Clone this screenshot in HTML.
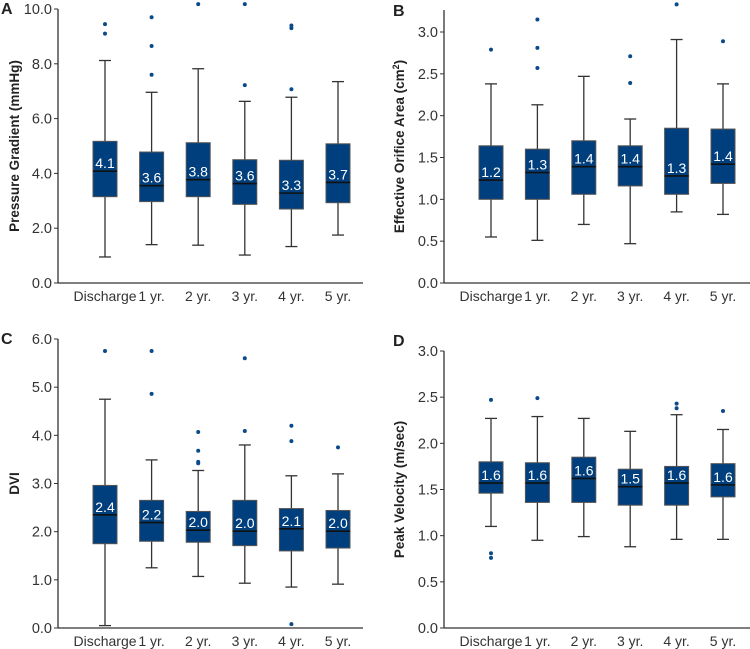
<!DOCTYPE html>
<html><head><meta charset="utf-8">
<style>
html,body{margin:0;padding:0;background:#fff;}
svg{display:block;font-family:"Liberation Sans",Arial,sans-serif;}
</style></head>
<body>
<svg id="chart" width="750" height="649" viewBox="0 0 750 649" xmlns="http://www.w3.org/2000/svg"></svg>
<script>
const categories = ["Discharge","1 yr.","2 yr.","3 yr.","4 yr.","5 yr."];

// Panel A: Pressure Gradient
const aQ1 = [3.15,2.97,3.15,2.87,2.70,2.93];
const aMed = [4.08,3.55,3.77,3.63,3.28,3.67];
const aQ3 = [5.17,4.78,5.12,4.50,4.48,5.08];
const aLo = [0.95,1.40,1.38,1.02,1.33,1.75];
const aHi = [8.12,6.96,7.82,6.63,6.78,7.35];
const aOut = [[9.1,9.45],[7.6,8.65,9.7],[10.18],[7.22,10.18],[7.07,9.3,9.4],[]];
const aLabels = ["4.1","3.6","3.8","3.6","3.3","3.7"];
const aTicks = ["0.0","2.0","4.0","6.0","8.0","10.0"];

// Panel B: Effective Orifice Area
const bQ1 = [1.00,1.00,1.06,1.16,1.06,1.19];
const bMed = [1.23,1.32,1.39,1.39,1.28,1.42];
const bQ3 = [1.64,1.60,1.70,1.64,1.85,1.84];
const bLo = [0.55,0.51,0.70,0.47,0.85,0.82];
const bHi = [2.38,2.13,2.47,1.96,2.91,2.38];
const bOut = [[2.79],[2.57,2.81,3.15],[],[2.39,2.71],[3.33],[2.89]];
const bLabels = ["1.2","1.3","1.4","1.4","1.3","1.4"];
const bTicks = ["0.0","0.5","1.0","1.5","2.0","2.5","3.0"];

// Panel C: DVI
const cQ1 = [1.75,1.80,1.78,1.71,1.60,1.66];
const cMed = [2.35,2.19,2.03,2.01,2.06,2.01];
const cQ3 = [2.96,2.65,2.42,2.65,2.48,2.44];
const cLo = [0.05,1.25,1.07,0.93,0.85,0.91];
const cHi = [4.75,3.49,3.27,3.80,3.16,3.20];
const cOut = [[5.75],[4.86,5.75],[3.42,3.45,3.68,4.07],[4.09,5.6],[0.08,3.88,4.2],[3.75]];
const cLabels = ["2.4","2.2","2.0","2.0","2.1","2.0"];
const cTicks = ["0.0","1.0","2.0","3.0","4.0","5.0","6.0"];

// Panel D: Peak Velocity
const dQ1 = [1.46,1.36,1.36,1.33,1.33,1.42];
const dMed = [1.57,1.57,1.62,1.53,1.57,1.55];
const dQ3 = [1.80,1.79,1.85,1.72,1.75,1.78];
const dLo = [1.10,0.95,0.99,0.88,0.96,0.96];
const dHi = [2.27,2.29,2.27,2.13,2.31,2.15];
const dOut = [[0.76,0.81,2.47],[2.49],[],[],[2.38,2.43],[2.35]];
const dLabels = ["1.6","1.6","1.6","1.5","1.6","1.6"];
const dTicks = ["0.0","0.5","1.0","1.5","2.0","2.5","3.0"];

const NS = "http://www.w3.org/2000/svg";
const svg = document.getElementById("chart");
function mk(tag, attrs, parent){
  const e = document.createElementNS(NS, tag);
  for (const k in attrs) e.setAttribute(k, attrs[k]);
  (parent||svg).appendChild(e);
  return e;
}

function panel(cfg){
  const g = mk("g", {});
  
  
  const yScale = v => cfg.y0 - (v - cfg.vmin) * (cfg.y0 - cfg.yTopVal) / (cfg.vmaxTick - cfg.vmin);
  const xScale = i => cfg.firstCenter + i * cfg.step;

  const L = mk("text", {x: cfg.letterX, y: cfg.letterY, "font-size": 16, "font-weight": "bold", fill: "#222"}, g);
  L.textContent = cfg.letter;
  
  

  const ya = mk("line", {x1: cfg.x0, y1: cfg.axisTop, x2: cfg.x0, y2: cfg.y0, stroke: "#333", "stroke-width": 1.3}, g);
  
  
  const xa = mk("line", {x1: cfg.x0, y1: cfg.y0, x2: cfg.xEnd, y2: cfg.y0, stroke: "#333", "stroke-width": 1.3}, g);
  
  

  cfg.ticks.forEach(t => {
    const v = parseFloat(t), y = yScale(v);
    const tk = mk("line", {x1: cfg.x0 - 4, y1: y, x2: cfg.x0, y2: y, stroke: "#333", "stroke-width": 1}, g);
    
    
    const tl = mk("text", {x: cfg.x0 - 6, y: y + 5, "font-size": 14.5, "text-anchor": "end", fill: "#333"}, g);
    tl.textContent = t;
    
    
  });

  const ty = (cfg.y0 + cfg.axisTop) / 2;
  const yt = mk("text", {x: cfg.titleX, y: ty, "font-size": 13.5, "font-weight": "bold", "text-anchor": "middle", fill: "#222", transform: `rotate(-90 ${cfg.titleX} ${ty})`}, g);
  if (cfg.sup) {
    yt.appendChild(document.createTextNode(cfg.title));
    const s = mk("tspan", {"baseline-shift": "super", "font-size": 9}, yt);
    s.textContent = "2";
    const r = mk("tspan", {}, yt);
    r.textContent = ")";
  } else yt.textContent = cfg.title;
  
  

  categories.forEach((c, i) => {
    const cx = xScale(i);
    const bw = 24, cw = 12;
    const bg = mk("g", {}, g);
    
    
    const yq1 = yScale(cfg.q1[i]), yq3 = yScale(cfg.q3[i]), ym = yScale(cfg.med[i]);
    const yl = yScale(cfg.lo[i]), yh = yScale(cfg.hi[i]);
    const w1 = mk("line", {x1: cx, y1: yq3, x2: cx, y2: yh, stroke: "#333", "stroke-width": 1.3}, bg);
    
    
    const w2 = mk("line", {x1: cx, y1: yq1, x2: cx, y2: yl, stroke: "#333", "stroke-width": 1.3}, bg);
    
    
    const c1 = mk("line", {x1: cx - cw/2, y1: yh, x2: cx + cw/2, y2: yh, stroke: "#333", "stroke-width": 1.3}, bg);
    
    
    const c2 = mk("line", {x1: cx - cw/2, y1: yl, x2: cx + cw/2, y2: yl, stroke: "#333", "stroke-width": 1.3}, bg);
    
    
    const r = mk("rect", {x: cx - bw/2, y: yq3, width: bw, height: yq1 - yq3, fill: "#003f7d", stroke: "#555", "stroke-width": 1}, bg);
    
    
    const m = mk("line", {x1: cx - bw/2, y1: ym, x2: cx + bw/2, y2: ym, stroke: "#111", "stroke-width": 1.6}, bg);
    
    
    const lb = mk("text", {x: cx, y: ym - 3, "font-size": 14, "text-anchor": "middle", fill: "#fff"}, bg);
    lb.textContent = cfg.labels[i];
    
    
    cfg.out[i].forEach(v => {
      const p = mk("circle", {cx: cx, cy: yScale(v), r: 2, fill: "#0b4a8a"}, bg);
      
      
    });
    const xl = mk("text", {x: cx, y: cfg.y0 + 18, "font-size": 14, "text-anchor": "middle", fill: "#333"}, g);
    xl.textContent = c;
    
    
  });
}

panel({name:"panel-a-pressure-gradient", letter:"A", letterX:1, letterY:14,
  x0:58, xEnd:363, y0:283, yTopVal:9, axisTop:9, vmin:0, vmaxTick:10, firstCenter:105, step:46.6,
  titleX:19, title:"Pressure Gradient (mmHg)", ticks:aTicks,
  q1:aQ1, med:aMed, q3:aQ3, lo:aLo, hi:aHi, out:aOut, labels:aLabels});
panel({name:"panel-b-effective-orifice-area", letter:"B", letterX:393, letterY:16,
  x0:444, xEnd:750, y0:283, yTopVal:32, axisTop:10, vmin:0, vmaxTick:3, firstCenter:491, step:46.4,
  titleX:404, title:"Effective Orifice Area (cm", sup:true, ticks:bTicks,
  q1:bQ1, med:bMed, q3:bQ3, lo:bLo, hi:bHi, out:bOut, labels:bLabels});
panel({name:"panel-c-dvi", letter:"C", letterX:1, letterY:344,
  x0:58, xEnd:363, y0:628, yTopVal:339, axisTop:339, vmin:0, vmaxTick:6, firstCenter:105, step:46.6,
  titleX:19, title:"DVI", ticks:cTicks,
  q1:cQ1, med:cMed, q3:cQ3, lo:cLo, hi:cHi, out:cOut, labels:cLabels});
panel({name:"panel-d-peak-velocity", letter:"D", letterX:393, letterY:346,
  x0:444, xEnd:750, y0:628, yTopVal:351, axisTop:351, vmin:0, vmaxTick:3, firstCenter:491, step:46.4,
  titleX:404, title:"Peak Velocity (m/sec)", ticks:dTicks,
  q1:dQ1, med:dMed, q3:dQ3, lo:dLo, hi:dHi, out:dOut, labels:dLabels});
</script>
</body></html>
